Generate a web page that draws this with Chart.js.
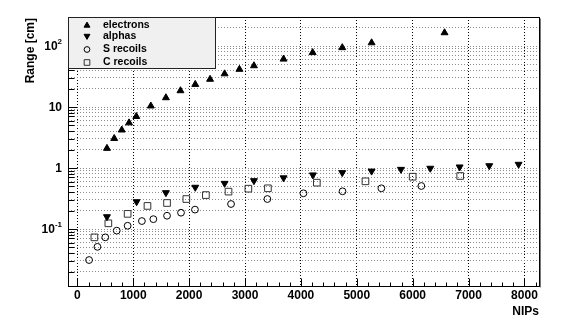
<!DOCTYPE html>
<html>
<head>
<meta charset="utf-8">
<script src="https://cdn.jsdelivr.net/npm/chart.js@4.4.0/dist/chart.umd.min.js"></script>
<style>
  body { margin: 0; background: #fff; }
</style>
</head>
<body>
<canvas id="rangeChart" width="570" height="330"></canvas>
<script>
// 数据
const electronNips  = [530, 660, 795, 925, 1055, 1315, 1585, 1845, 2110, 2375, 2635, 2900, 3160, 3690, 4210, 4740, 5265, 6570];
const electronRange = [2.1, 3.05, 4.2, 5.5, 7.0, 10.4, 14.2, 18.5, 23.5, 28.5, 35, 41.5, 47.5, 61, 78, 94, 113, 165];

const alphaNips  = [530, 1060, 1585, 2110, 2635, 3160, 3690, 4215, 4740, 5265, 5790, 6315, 6840, 7370, 7895];
const alphaRange = [0.159, 0.28, 0.394, 0.483, 0.56, 0.62, 0.69, 0.77, 0.84, 0.89, 0.95, 0.99, 1.04, 1.09, 1.15];

const sRecoilNips  = [210, 360, 500, 705, 900, 1155, 1360, 1605, 1855, 2105, 2750, 3400, 4045, 4745, 5440, 6155];
const sRecoilRange = [0.031, 0.051, 0.073, 0.094, 0.113, 0.135, 0.145, 0.165, 0.185, 0.208, 0.257, 0.31, 0.385, 0.415, 0.465, 0.507];

const cRecoilNips  = [305, 555, 900, 1255, 1605, 1950, 2300, 2705, 3060, 3410, 4285, 5155, 6000, 6850];
const cRecoilRange = [0.073, 0.124, 0.177, 0.239, 0.267, 0.31, 0.36, 0.41, 0.458, 0.465, 0.575, 0.605, 0.72, 0.74];

const legendLabels = ['electrons', 'alphas', 'S recoils', 'C recoils'];

// 坐标轴
const xMin = -167, xMax = 8278;
const yMin = 0.0112, yMax = 299;
const xTickValues = [0, 1000, 2000, 3000, 4000, 5000, 6000, 7000, 8000];
const yDecades = [0.1, 1, 10, 100];
const yLabelBase = ['10', '1', '10', '10'];
const yLabelExp = ['-1', '', '', '2'];

const FONT = '"Liberation Sans", Arial, Helvetica, sans-serif';

// 对数网格：每个数量级的 1..9
const yGridValues = [];
for (let e = -2; e <= 2; e++) {
    for (let m = 1; m <= 9; m++) {
        const v = +(m * Math.pow(10, e)).toPrecision(3);
        if (v >= yMin && v <= yMax) yGridValues.push(v);
    }
}

const toPoints = (xs, ys) => xs.map((x, i) => ({ x: x, y: ys[i] }));

const seriesStyles = [
    { pointStyle: 'triangle', radius: 4, rotation: 0, fill: '#000', stroke: '#000' },
    { pointStyle: 'triangle', radius: 4, rotation: 180, fill: '#000', stroke: '#000' },
    { pointStyle: 'circle', radius: 3.4, rotation: 0, fill: 'rgba(0,0,0,0)', stroke: '#000' },
    { pointStyle: 'rect', radius: 4.7, rotation: 0, fill: 'rgba(0,0,0,0)', stroke: '#333' }
];

// 边框、刻度、标签和图例
const rootFrame = {
    id: 'rootFrame',
    afterDraw(chart) {
        const { ctx, chartArea: a, scales: { x, y } } = chart;
        const L = Math.round(a.left) + 0.5, R = Math.round(a.right) - 0.5;
        const T = Math.round(a.top) + 0.5, B = Math.round(a.bottom) - 0.5;
        ctx.save();
        ctx.strokeStyle = '#000';
        ctx.lineWidth = 1;

        // x 刻度
        ctx.beginPath();
        for (let v = 0; v <= xMax; v += 200) {
            const px = Math.round(x.getPixelForValue(v)) + 0.5;
            const len = v % 1000 === 0 ? 8 : 4;
            ctx.moveTo(px, B);
            ctx.lineTo(px, B - len);
        }
        // y 刻度
        yGridValues.forEach(v => {
            const py = Math.round(y.getPixelForValue(v)) + 0.5;
            const len = yDecades.includes(v) ? 9 : 6;
            ctx.moveTo(L, py);
            ctx.lineTo(L + len, py);
        });
        ctx.stroke();

        // 边框
        ctx.strokeRect(L, T, R - L, B - T);
        ctx.strokeStyle = '#777';
        ctx.beginPath();
        ctx.moveTo(R + 1, T + 1);
        ctx.lineTo(R + 1, B + 1);
        ctx.stroke();

        // x 标签
        ctx.fillStyle = '#000';
        ctx.font = 'bold 12px ' + FONT;
        ctx.textAlign = 'center';
        ctx.textBaseline = 'middle';
        xTickValues.forEach(v => {
            ctx.fillText(String(v), x.getPixelForValue(v), 296);
        });

        // y 标签（带上标）
        yDecades.forEach((v, i) => {
            const py = y.getPixelForValue(v) + 1;
            const right = 62;
            ctx.font = 'bold 8px ' + FONT;
            const ew = yLabelExp[i] ? ctx.measureText(yLabelExp[i]).width : 0;
            ctx.textAlign = 'left';
            if (ew) ctx.fillText(yLabelExp[i], right - ew, py - 5);
            ctx.font = 'bold 12px ' + FONT;
            ctx.textAlign = 'right';
            ctx.fillText(yLabelBase[i], right - ew, py);
        });

        // 轴标题
        ctx.textAlign = 'right';
        ctx.fillText('NIPs', 539, 312);
        ctx.save();
        ctx.translate(31, 18);
        ctx.rotate(-Math.PI / 2);
        ctx.textAlign = 'right';
        ctx.fillText('Range [cm]', 0, 0);
        ctx.restore();

        // 图例
        ctx.fillStyle = '#f0f0f0';
        ctx.fillRect(L, T, 147, 51);
        ctx.strokeStyle = '#222';
        ctx.strokeRect(L, T, 147, 51);
        const rows = [25.5, 36, 49.5, 62.5];
        legendLabels.forEach((label, i) => {
            const s = seriesStyles[i];
            ctx.fillStyle = s.fill;
            ctx.strokeStyle = s.stroke;
            ctx.lineWidth = 1;
            Chart.helpers.drawPoint(ctx, {
                pointStyle: s.pointStyle,
                radius: s.radius * 0.85,
                rotation: s.rotation,
                borderWidth: 1
            }, 87, rows[i]);
            ctx.fillStyle = '#000';
            ctx.font = 'bold 10.5px ' + FONT;
            ctx.textAlign = 'left';
            ctx.fillText(label, 103, rows[i]);
        });
        ctx.restore();
    }
};

const datasetValues = [
    toPoints(electronNips, electronRange),
    toPoints(alphaNips, alphaRange),
    toPoints(sRecoilNips, sRecoilRange),
    toPoints(cRecoilNips, cRecoilRange)
];

const ctx = document.getElementById('rangeChart');
new Chart(ctx, {
    type: 'scatter',
    data: {
        datasets: datasetValues.map((pts, i) => ({
            label: legendLabels[i],
            data: pts,
            pointStyle: seriesStyles[i].pointStyle,
            pointRadius: seriesStyles[i].radius,
            rotation: seriesStyles[i].rotation,
            backgroundColor: seriesStyles[i].fill,
            borderColor: seriesStyles[i].stroke,
            borderWidth: 1
        }))
    },
    options: {
        responsive: false,
        animation: false,
        layout: { padding: { left: 68, top: 17, right: 30, bottom: 43 } },
        plugins: {
            legend: { display: false },
            tooltip: { enabled: false }
        },
        scales: {
            x: {
                type: 'linear',
                min: xMin,
                max: xMax,
                afterBuildTicks: s => { s.ticks = xTickValues.map(v => ({ value: v })); },
                ticks: { display: false },
                grid: { color: '#000', lineWidth: 1, drawTicks: false },
                border: { display: false, dash: [1, 2] }
            },
            y: {
                type: 'logarithmic',
                min: yMin,
                max: yMax,
                afterBuildTicks: s => { s.ticks = yGridValues.map(v => ({ value: v })); },
                ticks: { display: false },
                grid: { color: '#8c8c8c', lineWidth: 1, drawTicks: false },
                border: { display: false, dash: [1, 2] }
            }
        }
    },
    plugins: [rootFrame]
});
</script>
</body>
</html>
